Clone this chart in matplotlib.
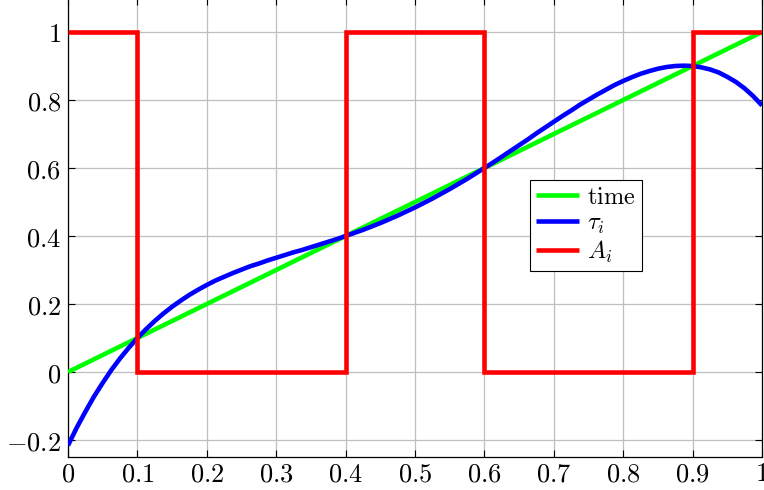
import matplotlib.pyplot as plt

plt.rcParams['mathtext.fontset'] = 'cm'
plt.rcParams['font.family'] = 'serif'
plt.rcParams['font.serif'] = ['DejaVu Serif']

# data
t_x = [0.0, 1.0]
t_y = [0.0, 1.0]

tau_x = [i * 0.0125 for i in range(81)]
tau_y = [-0.216, -0.164, -0.117, -0.072, -0.032, 0.006, 0.040, 0.071,
         0.100, 0.126, 0.150, 0.172, 0.192, 0.210, 0.227, 0.242,
         0.256, 0.269, 0.280, 0.291, 0.301, 0.311, 0.319, 0.328,
         0.336, 0.344, 0.352, 0.359, 0.367, 0.375, 0.383, 0.391,
         0.400, 0.409, 0.418, 0.428, 0.438, 0.449, 0.460, 0.472,
         0.484, 0.497, 0.510, 0.524, 0.538, 0.553, 0.568, 0.584,
         0.600, 0.616, 0.633, 0.650, 0.667, 0.684, 0.702, 0.719,
         0.736, 0.753, 0.769, 0.786, 0.801, 0.816, 0.830, 0.844,
         0.856, 0.867, 0.877, 0.885, 0.892, 0.897, 0.900, 0.901,
         0.900, 0.896, 0.890, 0.881, 0.868, 0.853, 0.834, 0.811,
         0.784]

a_x = [0.0, 0.1, 0.1, 0.4, 0.4, 0.6, 0.6, 0.9, 0.9, 1.0]
a_y = [1, 1, 0, 0, 1, 1, 0, 0, 1, 1]

x_ticks = [0, 0.1, 0.2, 0.3, 0.4, 0.5, 0.6, 0.7, 0.8, 0.9, 1]
x_labels = ['0', '0.1', '0.2', '0.3', '0.4', '0.5', '0.6', '0.7', '0.8', '0.9', '1']
y_ticks = [-0.2, 0, 0.2, 0.4, 0.6, 0.8, 1]
y_labels = ['-0.2', '0', '0.2', '0.4', '0.6', '0.8', '1']

fig = plt.figure(figsize=(7.64, 4.90), dpi=100)
ax = fig.add_axes([68 / 764, 33 / 490, 694 / 764, 459 / 490])

lw = 3.3
style = dict(lw=lw, zorder=3, solid_joinstyle='miter', solid_capstyle='butt')
ax.plot(t_x, t_y, color=(0, 1, 0), label=r'$\mathrm{time}$', **style)
ax.plot(tau_x, tau_y, color=(0, 0, 1), label=r'$\tau_i$', **style)
ax.plot(a_x, a_y, color=(1, 0, 0), label=r'$A_i$', **style)

ax.set_xlim(0, 1)
ax.set_ylim(-0.25, 1.1)
ax.set_xticks(x_ticks)
ax.set_xticklabels(['$' + s + '$' for s in x_labels])
ax.set_yticks(y_ticks)
ax.set_yticklabels(['$' + s + '$' for s in y_labels])
ax.tick_params(direction='in', length=5, width=0.8, top=True, right=True,
               labelsize=19, pad=5)
ax.tick_params(axis='x', pad=3)
ax.grid(True, color='#bfbfbf', lw=0.9)
ax.set_axisbelow(True)
for s in ax.spines.values():
    s.set_linewidth(0.9)

leg = ax.legend(loc='upper left', bbox_to_anchor=(0.666, 0.604), borderaxespad=0,
                fancybox=False, edgecolor='black', framealpha=1, fontsize=17.5,
                handlelength=1.75, handletextpad=0.35, labelspacing=0.12,
                borderpad=0.25)
leg.get_frame().set_linewidth(0.8)

fig.savefig('out.png', dpi=100)
